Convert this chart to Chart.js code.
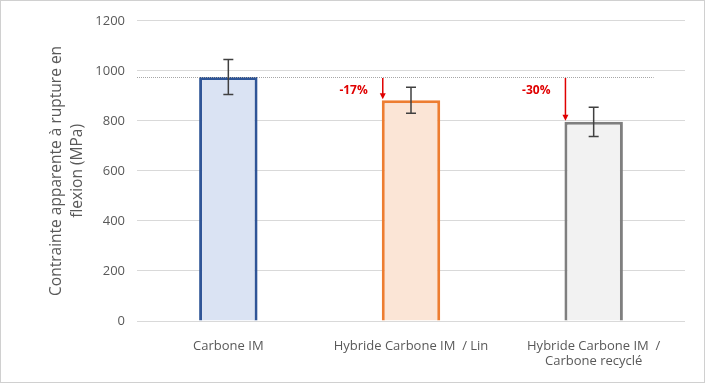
<!DOCTYPE html>
<html>
<head>
<meta charset="utf-8">
<script src="https://cdn.jsdelivr.net/npm/chart.js@4"></script>
<style>
    body { margin: 0; background: #fff; }
    #wrap { width: 705px; height: 383px; box-sizing: border-box; border: 1px solid #d0d0d0; }
</style>
</head>
<body>
<div id="wrap"><canvas id="chart" width="703" height="381"></canvas></div>
<script>
// Chart data
const categories = ['Carbone IM', 'Hybride Carbone IM  / Lin', ['Hybride Carbone IM  /', 'Carbone recyclé']];
const values = [975, 882, 796];
const errors = [70, 52, 58];
const deltaLabels = [null, '-17%', '-30%'];
const yTicks = [0, 200, 400, 600, 800, 1000, 1200];

const fillColors = ['#dae3f3', '#fbe5d6', '#f2f2f2'];
const borderColors = ['#2f5597', '#ed7d31', '#7f7f7f'];

// Error bars, reference line and red arrows
const overlayPlugin = {
    id: 'overlay',
    afterDatasetsDraw(chart) {
        const ctx = chart.ctx;
        const y = chart.scales.y;
        const area = chart.chartArea;
        const bars = chart.getDatasetMeta(0).data;
        const refY = Math.round(y.getPixelForValue(values[0]));

        ctx.save();
        // dotted reference line at first bar value
        ctx.strokeStyle = '#a6a6a6';
        ctx.lineWidth = 1;
        ctx.setLineDash([1, 1]);
        ctx.beginPath();
        ctx.moveTo(area.left, refY + 0.5);
        ctx.lineTo(bars[2].x + 60, refY + 0.5);
        ctx.stroke();
        ctx.setLineDash([]);

        // error bars
        ctx.strokeStyle = '#404040';
        ctx.lineWidth = 1.5;
        bars.forEach((bar, i) => {
            const top = y.getPixelForValue(values[i] + errors[i]);
            const bot = y.getPixelForValue(values[i] - errors[i]);
            ctx.beginPath();
            ctx.moveTo(bar.x, top);
            ctx.lineTo(bar.x, bot);
            ctx.moveTo(bar.x - 5, top);
            ctx.lineTo(bar.x + 5, top);
            ctx.moveTo(bar.x - 5, bot);
            ctx.lineTo(bar.x + 5, bot);
            ctx.stroke();
        });

        // red arrows with percentage labels
        ctx.strokeStyle = '#e00000';
        ctx.fillStyle = '#e00000';
        ctx.lineWidth = 1.5;
        ctx.font = 'bold 12px "Open Sans", sans-serif';
        ctx.textAlign = 'right';
        ctx.textBaseline = 'middle';
        bars.forEach((bar, i) => {
            if (!deltaLabels[i]) return;
            const ax = bar.x - bar.width / 2 + 1;
            const endY = y.getPixelForValue(values[i]) - 1;
            ctx.beginPath();
            ctx.moveTo(ax, refY + 1);
            ctx.lineTo(ax, endY - 5);
            ctx.stroke();
            ctx.beginPath();
            ctx.moveTo(ax - 3, endY - 6);
            ctx.lineTo(ax + 3, endY - 6);
            ctx.lineTo(ax, endY);
            ctx.closePath();
            ctx.fill();
            ctx.fillText(deltaLabels[i], ax - 15, refY + 14);
        });
        ctx.restore();
    }
};

new Chart(document.getElementById('chart'), {
    type: 'bar',
    data: {
        labels: categories,
        datasets: [{
            data: values,
            backgroundColor: fillColors,
            borderColor: borderColors,
            borderWidth: 3,
            barPercentage: 0.32,
            categoryPercentage: 1.0
        }]
    },
    options: {
        responsive: false,
        animation: false,
        layout: { padding: { left: 0, right: 19, top: 18, bottom: 0 } },
        plugins: {
            legend: { display: false },
            tooltip: { enabled: false }
        },
        scales: {
            x: {
                grid: { display: false },
                border: { display: false },
                ticks: {
                    color: '#595959',
                    font: { family: '"Open Sans", sans-serif', size: 13 },
                    maxRotation: 0,
                    padding: 9
                },
                afterFit(scale) { scale.height = 61; }
            },
            y: {
                min: 0,
                max: 1200,
                afterBuildTicks(scale) { scale.ticks = yTicks.map(v => ({ value: v })); },
                grid: { color: '#d9d9d9', drawTicks: false },
                border: { display: false },
                ticks: {
                    color: '#595959',
                    font: { family: '"Open Sans", sans-serif', size: 13 },
                    padding: 12,
                    callback: v => String(v)
                },
                title: {
                    display: true,
                    text: ['Contrainte apparente à rupture en', 'flexion (MPa)'],
                    color: '#595959',
                    font: { family: '"Open Sans", sans-serif', size: 15.5, lineHeight: 1.3 },
                    padding: { top: 46, bottom: 0 }
                },
                afterFit(scale) { scale.width = 136; }
            }
        }
    },
    plugins: [overlayPlugin]
});
</script>
</body>
</html>
